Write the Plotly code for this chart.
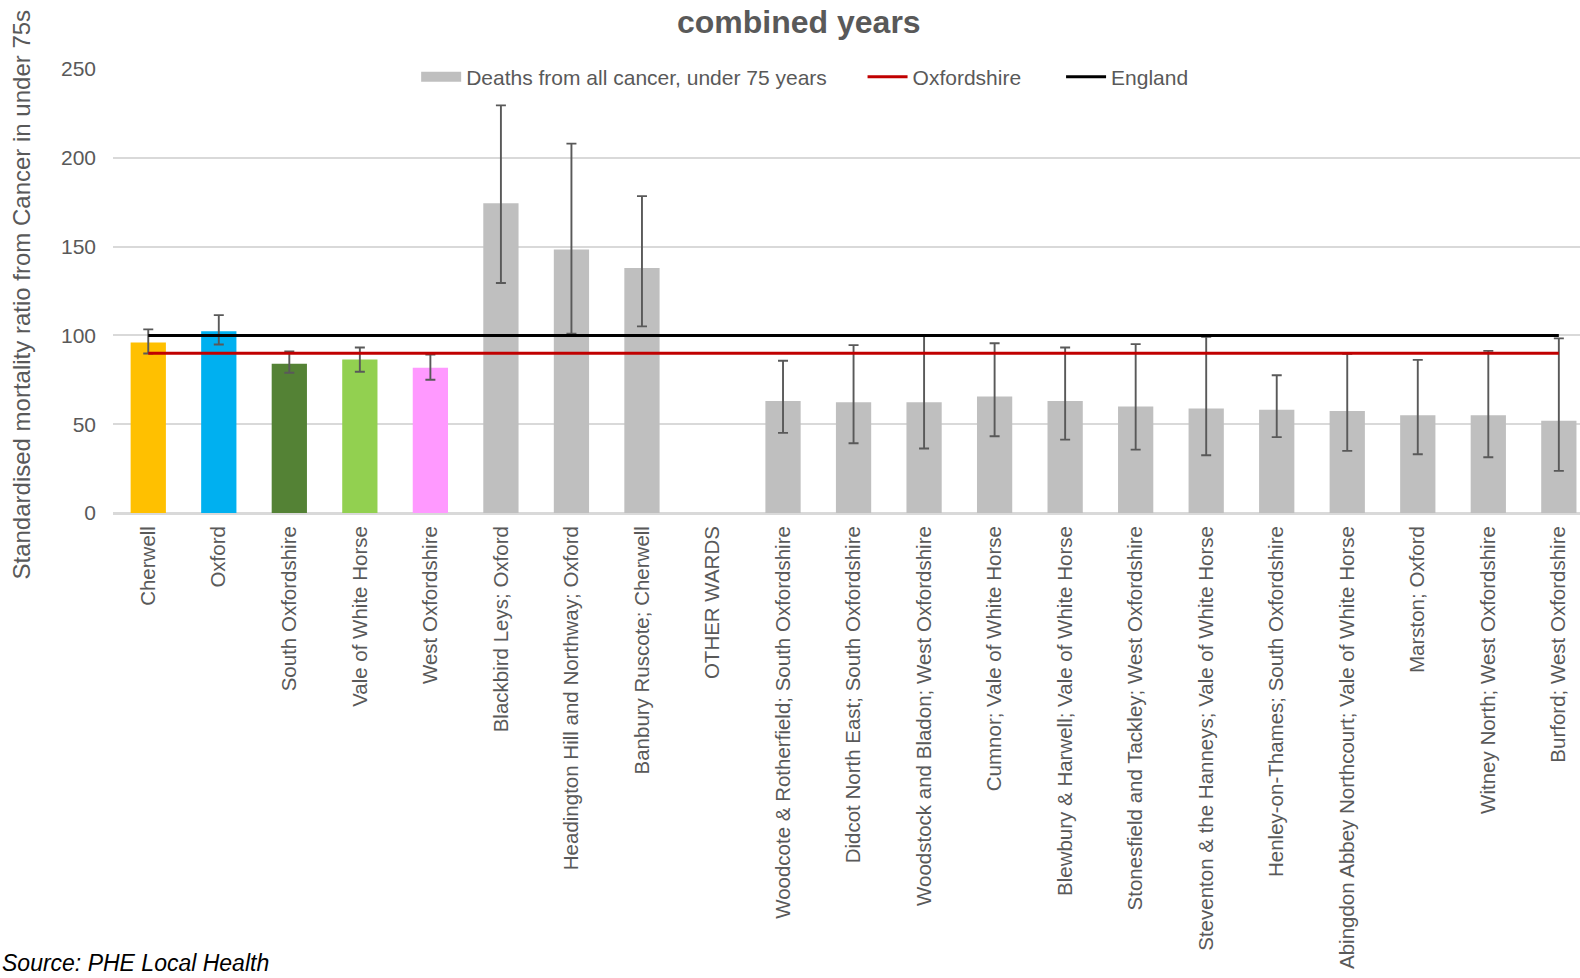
import plotly.graph_objects as go

categories = [
    "Cherwell", "Oxford", "South Oxfordshire", "Vale of White Horse", "West Oxfordshire",
    "Blackbird Leys; Oxford", "Headington Hill and Northway; Oxford", "Banbury Ruscote; Cherwell",
    "OTHER WARDS",
    "Woodcote & Rotherfield; South Oxfordshire", "Didcot North East; South Oxfordshire",
    "Woodstock and Bladon; West Oxfordshire", "Cumnor; Vale of White Horse",
    "Blewbury & Harwell; Vale of White Horse", "Stonesfield and Tackley; West Oxfordshire",
    "Steventon & the Hanneys; Vale of White Horse", "Henley-on-Thames; South Oxfordshire",
    "Abingdon Abbey Northcourt; Vale of White Horse", "Marston; Oxford",
    "Witney North; West Oxfordshire", "Burford; West Oxfordshire",
]

district_names = categories[:5]
district_smr = [96.0, 102.3, 84.1, 86.4, 81.8]
district_upper = [103.4, 111.4, 90.9, 93.2, 89.2]
district_lower = [89.8, 94.9, 79.0, 79.5, 75.0]
district_colors = ["#FFC000", "#00B0F0", "#548235", "#92D050", "#FF99FF"]

ward_names = categories[5:]
ward_smr = [174.4, 148.3, 138.0, None, 63.1, 62.4, 62.4, 65.6, 63.1, 59.9, 58.8, 58.1, 57.5, 55.1, 55.1, 51.9]
ward_upper = [229.5, 208.0, 178.4, None, 85.7, 94.5, 99.8, 95.6, 93.2, 95.1, 99.2, 77.6, 89.6, 86.2, 91.3, 98.3]
ward_lower = [129.5, 101.0, 105.1, None, 45.1, 39.3, 36.3, 43.2, 41.3, 35.7, 32.5, 42.7, 35.0, 33.1, 31.4, 23.7]

oxfordshire_value = 90
england_value = 100


def plus(v, u):
    return [None if a is None else b - a for a, b in zip(v, u)]


def minus(v, l):
    return [None if a is None else a - b for a, b in zip(v, l)]


grey_text = "#595959"
font_family = "Liberation Sans, Arial, sans-serif"
err_style = dict(type="data", symmetric=False, color="#595959", thickness=1.9, width=5)

# plot-area geometry in pixels (for placing paper-referenced annotations/legends)
L, T, PW, PH = 113, 69, 1467, 444
S = 0.9924  # preview scale


def px_x(x):
    return (x / S - L) / PW


leg_y = 1 - (77 - T) / PH

fig = go.Figure()
fig.add_trace(go.Bar(
    x=ward_names, y=ward_smr, name="Deaths from all cancer, under 75 years", showlegend=False,
    marker=dict(color="#BFBFBF", line=dict(width=0)), width=0.5,
    error_y=dict(array=plus(ward_smr, ward_upper), arrayminus=minus(ward_smr, ward_lower), **err_style),
))
fig.add_trace(go.Bar(
    x=district_names, y=district_smr, showlegend=False,
    marker=dict(color=district_colors, line=dict(width=0)), width=0.5,
    error_y=dict(array=plus(district_smr, district_upper), arrayminus=minus(district_smr, district_lower), **err_style),
))
# legend key for the grey bars (wide rectangle like the original)
fig.add_trace(go.Scatter(
    x=[None], y=[None], mode="lines", name="Deaths from all cancer, under 75 years",
    line=dict(color="#BFBFBF", width=10), hoverinfo="skip", legend="legend",
))
fig.add_trace(go.Scatter(
    x=categories, y=[oxfordshire_value] * len(categories), mode="lines", name="Oxfordshire",
    line=dict(color="#C00000", width=3), legend="legend2",
))
fig.add_trace(go.Scatter(
    x=categories, y=[england_value] * len(categories), mode="lines", name="England",
    line=dict(color="#000000", width=3), legend="legend3",
))

leg_common = dict(orientation="h", y=leg_y, xanchor="left", yanchor="middle",
                  font=dict(size=21, color=grey_text), bgcolor="rgba(0,0,0,0)",
                  itemwidth=40, tracegroupgap=0)

fig.update_layout(
    width=1580, height=978,
    margin=dict(l=L, r=0, t=T, b=978 - T - PH),
    paper_bgcolor="white", plot_bgcolor="white",
    barmode="overlay",
    font=dict(family=font_family, color=grey_text, size=20),
    showlegend=True,
    legend=dict(x=px_x(413), **leg_common),
    legend2=dict(x=px_x(856), **leg_common),
    legend3=dict(x=px_x(1053), **leg_common),
    xaxis=dict(categoryorder="array", categoryarray=categories, range=[-0.5, 20.3],
               tickangle=-90, tickfont=dict(size=20.5, color=grey_text), showgrid=False,
               showline=False, zeroline=False, ticks="", ticklabelstandoff=8, automargin=False),
    yaxis=dict(range=[0, 250], tickvals=[0, 50, 100, 150, 200, 250], showgrid=True,
               gridcolor="#D9D9D9", gridwidth=1.5, zeroline=True, zerolinecolor="#D9D9D9",
               zerolinewidth=2.5, tickfont=dict(size=21, color=grey_text), ticks="",
               ticklabelstandoff=16, automargin=False),
)

fig.add_annotation(text="Standardised mortality ratio from Cancer in under 75s",
                   textangle=-90, xref="paper", yref="paper",
                   x=(20.5 - L) / PW, y=1 - (295 - T) / PH, xanchor="center", yanchor="middle",
                   showarrow=False, font=dict(size=24, color=grey_text, family=font_family))
fig.add_annotation(text="<b>combined years</b>", xref="paper", yref="paper",
                   x=(799 - L) / PW, y=1 + (T - 22) / PH, xanchor="center", yanchor="middle",
                   showarrow=False, font=dict(size=32, color=grey_text, family=font_family))
fig.add_annotation(text="<i>Source: PHE Local Health</i>", xref="paper", yref="paper",
                   x=-L / PW, y=-(978 - T - PH) / PH, xanchor="left", yanchor="bottom",
                   showarrow=False, font=dict(size=23, color="#000000", family=font_family))

fig.write_html("out.html", post_script="document.body.style.margin='0px';",
               config={"displayModeBar": False})
